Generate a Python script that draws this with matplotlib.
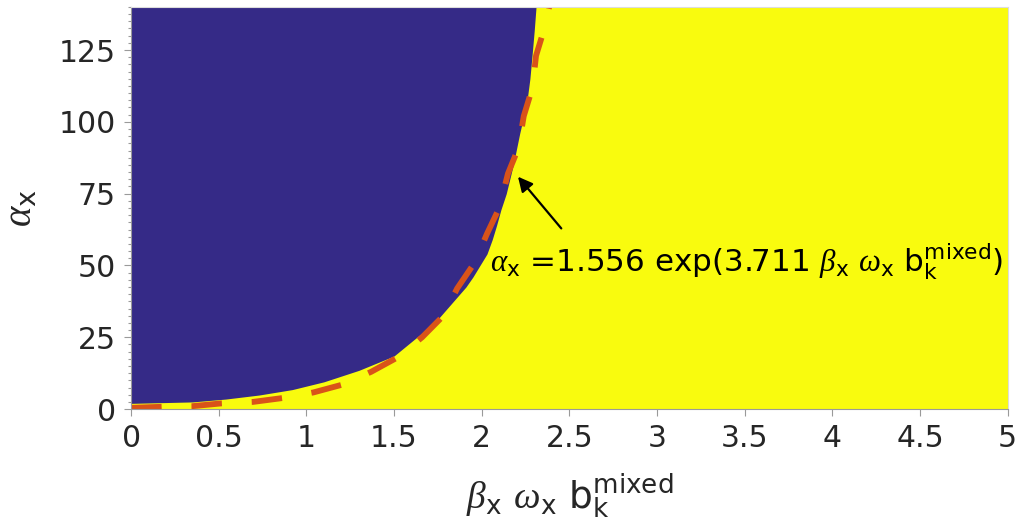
import matplotlib
matplotlib.use("Agg")
import matplotlib.pyplot as plt
from matplotlib.ticker import MultipleLocator

plt.rcParams['mathtext.fontset'] = 'custom'
plt.rcParams['mathtext.rm'] = 'DejaVu Sans'
plt.rcParams['mathtext.it'] = 'Liberation Serif:italic'
plt.rcParams['lines.scale_dashes'] = False

# Phase boundary (edge of the dark region)
boundary_x = [0.0, 0.35, 0.54, 0.73, 0.92, 1.10, 1.20, 1.30, 1.40, 1.50, 1.57, 1.66,
              1.76, 1.86, 1.91, 1.95, 1.99, 2.03, 2.06, 2.085, 2.11, 2.14, 2.18,
              2.217, 2.24, 2.26, 2.275, 2.29, 2.30, 2.31]
boundary_alpha = [2.0, 2.5, 3.5, 4.9, 6.8, 9.5, 11.5, 13.5, 16.0, 18.5, 22.0, 26.5,
                  32.0, 39.0, 42.5, 46.0, 50.0, 54.0, 59.0, 64.0, 69.5, 75.0, 85.0,
                  96.0, 102.0, 108.0, 115.0, 125.0, 132.0, 140.0]

# Fitted curve (dashed)
fit_x = [0.0, 0.175, 0.346, 0.517, 0.695, 0.87, 1.04, 1.21, 1.37, 1.52, 1.66, 1.78,
         1.86, 1.96, 2.03, 2.10, 2.15, 2.21, 2.24, 2.29, 2.31, 2.36, 2.385]
fit_alpha = [0.45, 0.8, 1.0, 2.0, 2.5, 3.9, 5.8, 8.6, 13.0, 18.0, 25.0, 32.4,
             42.0, 51.0, 61.0, 70.0, 82.0, 91.0, 102.0, 112.0, 123.0, 133.0, 140.0]

x_min, x_max = 0, 5
alpha_min, alpha_max = 0, 140
x_ticks = [0, 0.5, 1, 1.5, 2, 2.5, 3, 3.5, 4, 4.5, 5]
x_ticklabels = ['0', '0.5', '1', '1.5', '2', '2.5', '3', '3.5', '4', '4.5', '5']
y_ticks = [0, 25, 50, 75, 100, 125]

blue = '#352a87'
yellow = '#f9fb0e'
orange = '#d95319'

fig = plt.figure(figsize=(10.24, 5.32), dpi=100)
ax = fig.add_axes([0.128, 0.231, 0.856, 0.756])
ax.set_facecolor(yellow)
ax.fill_between(boundary_x, boundary_alpha, alpha_max, color=blue, linewidth=0)
ax.plot(fit_x, fit_alpha, color=orange, linewidth=4.2, dashes=[22, 21.5],
        solid_capstyle='butt', dash_capstyle='butt')

ax.set_xlim(x_min, x_max)
ax.set_ylim(alpha_min, alpha_max)
ax.set_xticks(x_ticks)
ax.set_xticklabels(x_ticklabels)
ax.set_yticks(y_ticks)
ax.yaxis.set_minor_locator(MultipleLocator(2.5))

ax.tick_params(axis='both', which='major', direction='out', length=5, width=0.8,
               color='#9a9a9a', labelsize=21.5, labelcolor='#262626', pad=6)
ax.tick_params(axis='y', which='minor', direction='out', length=2.3, width=0.8,
               color='#9a9a9a')
for s in ['left', 'bottom']:
    ax.spines[s].set_color('#9a9a9a')
    ax.spines[s].set_linewidth(0.8)
for s in ['top', 'right']:
    ax.spines[s].set_color('#dcdcdc')
    ax.spines[s].set_linewidth(0.8)

ax.set_xlabel(r'$\beta_\mathrm{x}$ $\omega_\mathrm{x}$ b$_\mathrm{k}^\mathrm{mixed}$',
              fontsize=27, color='#262626', labelpad=13)
ax.set_ylabel(r'$\alpha_\mathrm{x}$', fontsize=28, color='#262626', labelpad=14)

ax.annotate('', xy=(2.207, 80.9), xytext=(2.454, 62.9),
            arrowprops=dict(arrowstyle='-|>', color='black', lw=1.6,
                            mutation_scale=22, shrinkA=0, shrinkB=0))
ax.text(2.046, 47.7,
        r'$\alpha_\mathrm{x}$ =1.556 exp(3.711 $\beta_\mathrm{x}$ $\omega_\mathrm{x}$ b$_\mathrm{k}^\mathrm{mixed}$)',
        fontsize=22.3, color='black', ha='left', va='baseline')

fig.savefig('out.png', dpi=100)
